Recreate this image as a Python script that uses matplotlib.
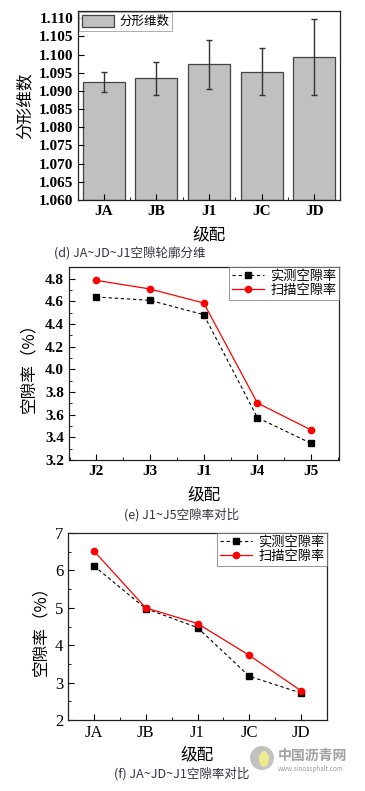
import matplotlib
matplotlib.use("Agg")
import matplotlib.pyplot as plt
from matplotlib.ticker import AutoMinorLocator, MultipleLocator, FormatStrFormatter
from matplotlib.patches import Ellipse

plt.rcParams['font.family'] = ['Liberation Serif', 'Noto Sans CJK SC']

# ---- data ----
cats_d = ['JA', 'JB', 'J1', 'JC', 'JD']
fractal = [1.0925, 1.0935, 1.0973, 1.0953, 1.0993]
fractal_err = [0.0028, 0.0046, 0.0068, 0.0065, 0.0105]

cats_e = ['J2', 'J3', 'J1', 'J4', 'J5']
measured_e = [4.638, 4.609, 4.482, 3.574, 3.347]
scanned_e = [4.785, 4.709, 4.585, 3.703, 3.465]

cats_f = ['JA', 'JB', 'J1', 'JC', 'JD']
measured_f = [6.12, 4.98, 4.47, 3.17, 2.72]
scanned_f = [6.52, 5.00, 4.58, 3.73, 2.78]

W, H = 365, 791
fig = plt.figure(figsize=(W / 100, H / 100), dpi=100)

def ax_px(l, r, t, b):
    return fig.add_axes([l / W, (H - b) / H, (r - l) / W, (b - t) / H])

cjk = ['Noto Sans CJK SC', 'DejaVu Sans']

def style(ax):
    ax.tick_params(which='both', direction='in', top=False, right=False)
    ax.tick_params(which='major', length=4, width=0.8)
    ax.tick_params(which='minor', length=2, width=0.6)
    for s in ax.spines.values():
        s.set_linewidth(0.9)
        s.set_color('#222222')

# ---- panel (d) ----
ax1 = ax_px(78, 340, 11, 200)
x = range(len(cats_d))
ax1.bar(x, [v - 1.06 for v in fractal], bottom=1.06, width=0.8, color='#c0c0c0',
        edgecolor='#444444', linewidth=0.9, label='分形维数')
ax1.errorbar(x, fractal, yerr=fractal_err, fmt='none', ecolor='#333333',
             elinewidth=1.0, capsize=2.5, capthick=1.0)
ax1.set_ylim(1.060, 1.112)
ax1.set_xlim(-0.49, 4.49)
ax1.yaxis.set_major_locator(MultipleLocator(0.005))
ax1.yaxis.set_major_formatter(FormatStrFormatter('%.3f'))
ax1.set_xticks(list(x))
ax1.set_xticklabels(cats_d)
style(ax1)
ax1.xaxis.set_minor_locator(AutoMinorLocator(2))
for lab in ax1.get_xticklabels() + ax1.get_yticklabels():
    lab.set_fontsize(11)
    lab.set_fontweight('bold')
ax1.set_ylabel('分形维数', fontsize=12, family=cjk, labelpad=4)
ax1.set_xlabel('级配', fontsize=12, family=cjk, labelpad=6)
leg = ax1.legend(loc='upper left', prop={'family': cjk, 'size': 9}, frameon=True,
                 fancybox=False, borderpad=0.2, handlelength=2.6, handleheight=1.1,
                 borderaxespad=0.1, handletextpad=0.4)
leg.get_frame().set_edgecolor('#888888')
leg.get_frame().set_linewidth(0.6)
fig.text(130 / W, 1 - 253 / H, '(d) JA~JD~J1空隙轮廓分维', ha='center', va='center',
         fontsize=9, family=cjk, color='#333344')

# ---- panel (e) ----
ax2 = ax_px(69, 339, 267, 460)
x2 = range(len(cats_e))
ax2.plot(x2, measured_e, color='black', linestyle='--', dashes=(3, 2.5), linewidth=0.8,
         marker='s', markersize=4, label='实测空隙率')
ax2.plot(x2, scanned_e, color='red', linestyle='-', linewidth=0.9,
         marker='o', markersize=4.5, label='扫描空隙率')
ax2.set_ylim(3.2, 4.903)
ax2.set_xlim(-0.51, 4.52)
ax2.yaxis.set_major_locator(MultipleLocator(0.2))
ax2.yaxis.set_major_formatter(FormatStrFormatter('%.1f'))
ax2.yaxis.set_minor_locator(AutoMinorLocator(2))
ax2.set_xticks(list(x2))
ax2.set_xticklabels(cats_e)
ax2.xaxis.set_minor_locator(AutoMinorLocator(2))
style(ax2)
for lab in ax2.get_xticklabels() + ax2.get_yticklabels():
    lab.set_fontsize(11)
    lab.set_fontweight('bold')
ax2.set_ylabel('空隙率（%）', fontsize=12, family=cjk, labelpad=6)
ax2.set_xlabel('级配', fontsize=12, family=cjk, labelpad=6)
leg2 = ax2.legend(loc='upper right', prop={'family': cjk, 'size': 9.5}, frameon=True,
                  fancybox=False, borderpad=0.2, handlelength=2.4, labelspacing=0.1,
                  borderaxespad=0.0, handletextpad=0.5)
leg2.get_frame().set_edgecolor('#666666')
leg2.get_frame().set_linewidth(0.6)
fig.text(182 / W, 1 - 515 / H, '(e) J1~J5空隙率对比', ha='center', va='center',
         fontsize=9, family=cjk, color='#333344')

# ---- panel (f) ----
ax3 = ax_px(68, 327, 533, 720)
x3 = range(len(cats_f))
ax3.plot(x3, measured_f, color='black', linestyle='--', dashes=(3, 2.5), linewidth=0.8,
         marker='s', markersize=4, label='实测空隙率')
ax3.plot(x3, scanned_f, color='red', linestyle='-', linewidth=0.9,
         marker='o', markersize=4.5, label='扫描空隙率')
ax3.set_ylim(2, 7)
ax3.set_xlim(-0.5, 4.5)
ax3.yaxis.set_major_locator(MultipleLocator(1))
ax3.yaxis.set_minor_locator(AutoMinorLocator(2))
ax3.set_xticks(list(x3))
ax3.set_xticklabels(cats_f)
ax3.xaxis.set_minor_locator(AutoMinorLocator(2))
style(ax3)
for lab in ax3.get_xticklabels() + ax3.get_yticklabels():
    lab.set_fontsize(12)
ax3.set_ylabel('空隙率（%）', fontsize=12, family=cjk, labelpad=4)
ax3.set_xlabel('级配', fontsize=12, family=cjk, labelpad=4)
leg3 = ax3.legend(loc='upper right', prop={'family': cjk, 'size': 9.5}, frameon=True,
                  fancybox=False, borderpad=0.2, handlelength=2.4, labelspacing=0.1,
                  borderaxespad=0.0, handletextpad=0.5)
leg3.get_frame().set_edgecolor('#666666')
leg3.get_frame().set_linewidth(0.6)
fig.text(182 / W, 1 - 774 / H, '(f) JA~JD~J1空隙率对比', ha='center', va='center',
         fontsize=9, family=cjk, color='#333344')

# watermark
cx, cy, r = 262, 758, 12
fig.patches.append(Ellipse((cx / W, 1 - cy / H), 2 * r / W, 2 * r / H,
                           transform=fig.transFigure, facecolor='#b8b8b8',
                           edgecolor='none', alpha=0.85))
fig.patches.append(Ellipse(((cx + 2) / W, 1 - (cy + 1) / H), 10 / W, 16 / H,
                           transform=fig.transFigure, facecolor='#f2ee88',
                           edgecolor='none', alpha=0.9))
fig.text(278 / W, 1 - 756 / H, '中国沥青网', fontsize=10, family=cjk, color='#a0a0a0',
         fontweight='bold', va='center', ha='left')
fig.text(278 / W, 1 - 769 / H, 'www.sinoasphalt.com', fontsize=4.5, family=cjk,
         color='#999999', va='center', ha='left')

fig.savefig('out.png', dpi=100, facecolor='white')
